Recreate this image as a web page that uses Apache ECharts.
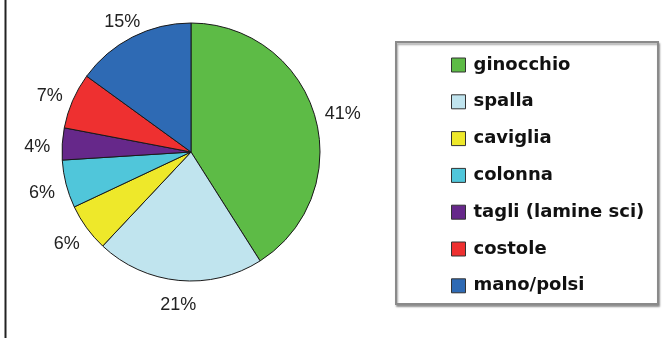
<!DOCTYPE html>
<html>
<head>
<meta charset="utf-8">
<script src="https://cdn.jsdelivr.net/npm/echarts@6/dist/echarts.min.js"></script>
<style>
  html, body { margin: 0; padding: 0; background: #fff; }
  #chart { width: 664px; height: 338px; }
</style>
</head>
<body>
<div id="chart"></div>
<script>
const categories = ['ginocchio', 'spalla', 'caviglia', 'colonna', 'tagli (lamine sci)', 'costole', 'mano/polsi']
const values = [41, 21, 6, 6, 4, 7, 15]
const colors = ['#5dbb46', '#c0e4ee', '#eee82a', '#50c6da', '#66288a', '#ee3030', '#2e6ab4']

const CX = 191
const CY = 152
const R = 129
// labels sit on a slightly squashed ring around the pie
const LABEL_RX = 156
const LABEL_RY = 150
const LABEL_DX = 2
const LABEL_DY = 4

const total = values.reduce((a, b) => a + b, 0)
const midAngle = (idx) => {
  let before = 0
  for (let i = 0; i < idx; i++) before += values[i]
  return ((before + values[idx] / 2) / total) * Math.PI * 2
}

const chart = echarts.init(document.getElementById('chart'))

chart.setOption({
  animation: false,
  backgroundColor: '#fff',
  graphic: [
    {
      type: 'line',
      shape: { x1: 5.5, y1: 0, x2: 5.5, y2: 338 },
      style: { stroke: '#222', lineWidth: 2 },
    },
    {
      type: 'rect',
      shape: { x: 396, y: 42, width: 262, height: 262 },
      style: {
        fill: '#fff',
        stroke: '#8a8a8a',
        lineWidth: 2,
        shadowColor: 'rgba(0,0,0,0.35)',
        shadowOffsetX: 1,
        shadowOffsetY: 2,
        shadowBlur: 2,
      },
      z: -1,
    },
  ],
  legend: {
    orient: 'vertical',
    left: 451,
    top: 54,
    padding: 0,
    itemWidth: 14,
    itemHeight: 14,
    itemGap: 14.8,
    icon: 'rect',
    selectedMode: false,
    itemStyle: { borderColor: '#333', borderWidth: 1 },
    textStyle: {
      fontFamily: 'DejaVu Sans',
      fontWeight: 'bold',
      fontSize: 18,
      color: '#111',
      lineHeight: 22,
      padding: [0, 0, 0, 3],
    },
    data: categories,
  },
  series: [
    {
      type: 'pie',
      center: [CX, CY],
      radius: R,
      startAngle: 90,
      clockwise: true,
      avoidLabelOverlap: false,
      data: categories.map((name, i) => ({
        name,
        value: values[i],
        itemStyle: { color: colors[i] },
      })),
      itemStyle: { borderColor: '#1a1a1a', borderWidth: 1 },
      label: {
        show: true,
        position: 'outside',
        formatter: '{d}%',
        fontFamily: 'Liberation Sans',
        fontSize: 18,
        color: '#222',
      },
      labelLine: { show: false },
      labelLayout: (params) => {
        const a = midAngle(params.dataIndex)
        return {
          x: CX + LABEL_DX + LABEL_RX * Math.sin(a),
          y: CY + LABEL_DY - LABEL_RY * Math.cos(a),
          align: 'center',
          verticalAlign: 'middle',
          hideOverlap: false,
        }
      },
      emphasis: { disabled: true },
    },
  ],
})
</script>
</body>
</html>
